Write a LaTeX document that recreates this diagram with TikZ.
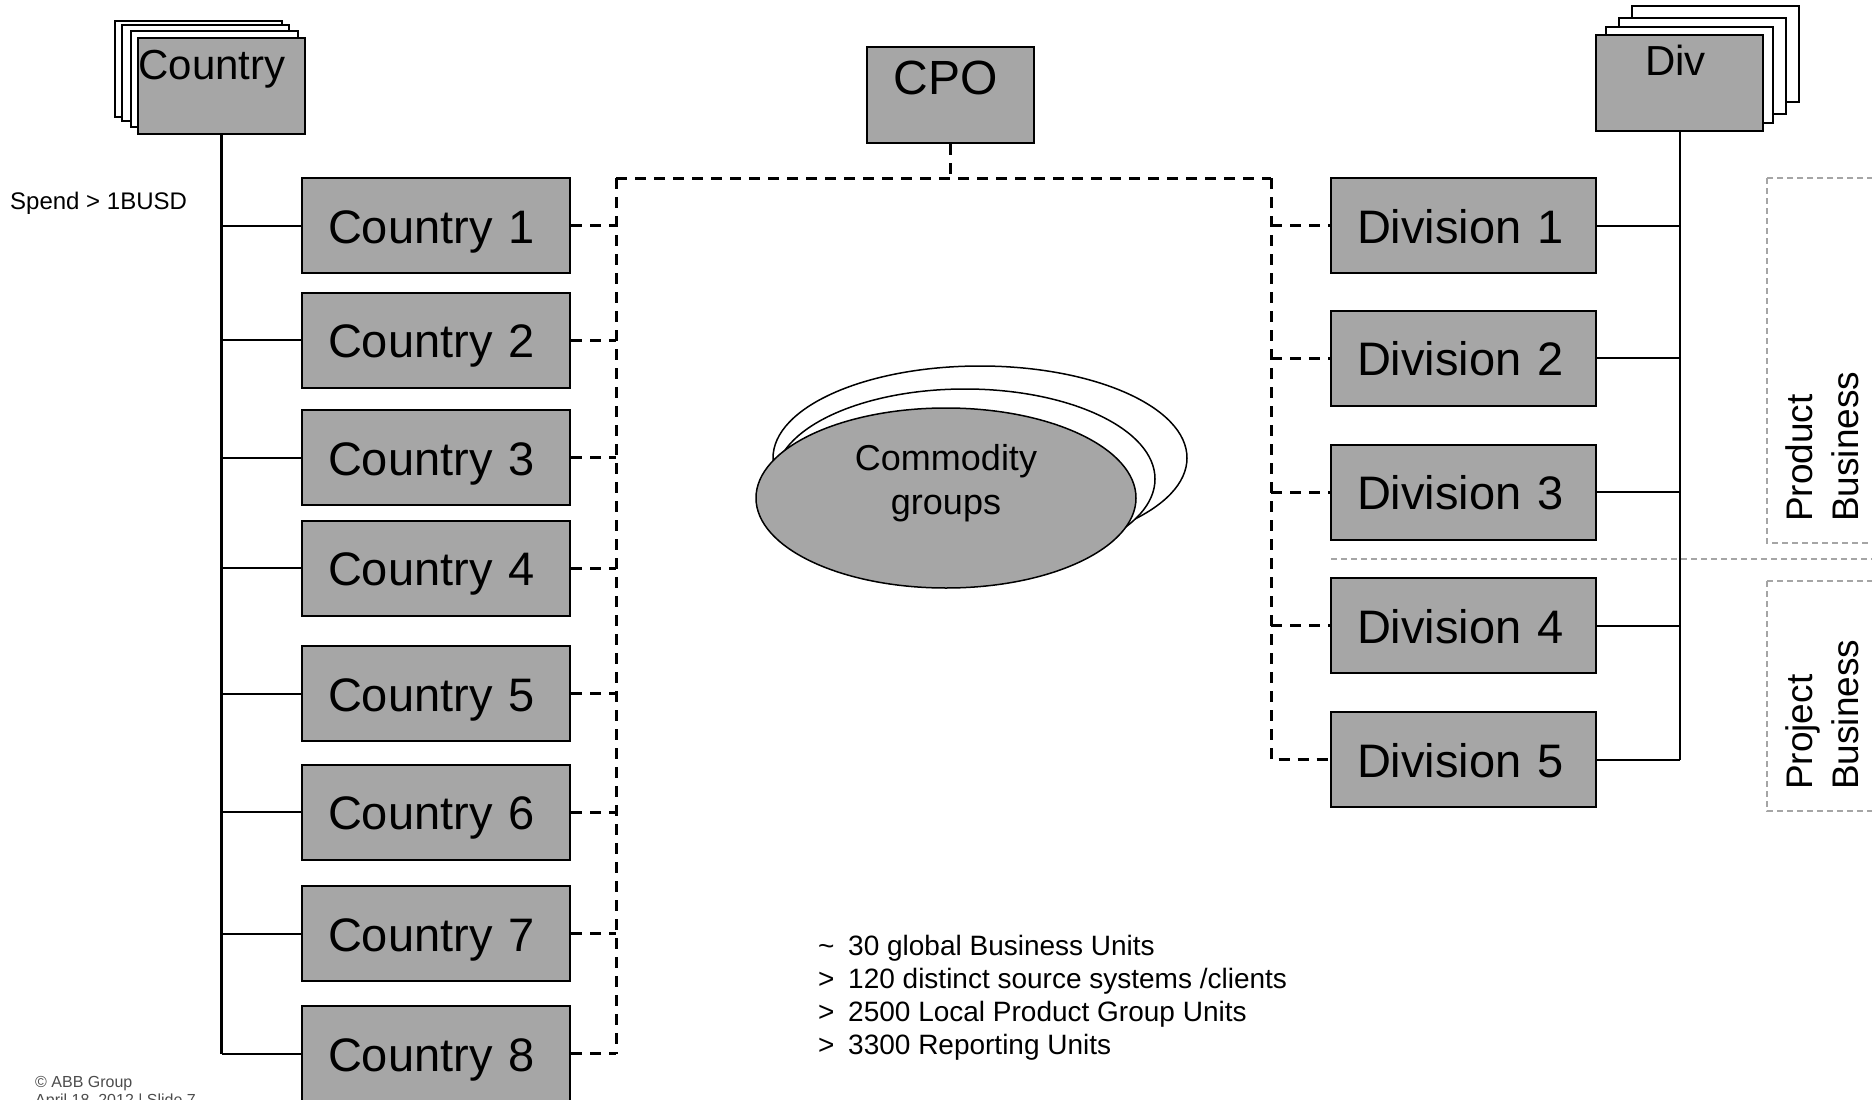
\documentclass[tikz,border=0pt]{standalone}
\usepackage{fontspec}
\setmainfont{Liberation Sans}
\usepackage{tikz}
\usetikzlibrary{shapes.geometric, calc}
\definecolor{boxgray}{RGB}{166,166,166}
\definecolor{linegray}{RGB}{165,165,165}
\tikzstyle{hbox} = [rectangle, draw, line width=2pt, minimum width=167pt, minimum height=96pt, inner sep=0pt]
\tikzstyle{cbox} = [rectangle, draw, fill=boxgray, line width=2pt, minimum width=268pt, minimum height=95pt, inner xsep=26pt, text width=216pt, align=left, text height=35pt, text depth=0pt, font=\fontsize{47}{56}\selectfont]
\tikzstyle{dbox} = [cbox, minimum width=265pt, text width=213pt]
\tikzstyle{cgell} = [ellipse, draw, line width=1.5pt, minimum width=380pt, minimum height=180pt]
\tikzstyle{tree} = [line width=2pt]
\tikzstyle{dline} = [line width=3pt, dash pattern=on 11pt off 8pt]
\tikzstyle{gline} = [linegray, line width=1.5pt, dash pattern=on 6pt off 4pt]
\tikzstyle{txt} = [inner sep=0pt]

\begin{document}
\begin{tikzpicture}[x=1pt, y=-1pt]
\useasboundingbox (0,0) rectangle (1872,1100);
% country stack
\draw (198.5,69) node (cb3) [hbox, fill=white] {};
\draw (205.5,73) node (cb2) [hbox, fill=white] {};
\draw (214.5,79) node (cb1) [hbox, fill=white] {};
\draw (221.5,86) node (ctry) [hbox, fill=boxgray] {};
\draw (212,79) node (ctrytxt) [txt, anchor=base, font=\fontsize{42}{50}\selectfont] {Country};
% div stack
\draw (1715.5,53.5) node (db3) [hbox, fill=white] {};
\draw (1702.5,65.5) node (db2) [hbox, fill=white] {};
\draw (1689.5,75) node (db1) [hbox, fill=white] {};
\draw (1679.5,82.5) node (div) [hbox, fill=boxgray] {};
\draw (1675.5,75) node (divtxt) [txt, anchor=base, font=\fontsize{42}{50}\selectfont] {Div};
% cpo
\draw (950.5,95) node (cpo) [hbox, fill=boxgray] {};
\draw (945.5,94) node (cpotxt) [txt, anchor=base, font=\fontsize{48}{56}\selectfont] {CPO};

\draw (436,225.5) node (c1) [cbox] {Country 1};
\draw (436,340) node (c2) [cbox] {Country 2};
\draw (436,457.5) node (c3) [cbox] {Country 3};
\draw (436,568) node (c4) [cbox] {Country 4};
\draw (436,693.5) node (c5) [cbox] {Country 5};
\draw (436,812) node (c6) [cbox] {Country 6};
\draw (436,933.5) node (c7) [cbox] {Country 7};
\draw (436,1053.5) node (c8) [cbox] {Country 8};

\draw (1463.5,225.5) node (d1) [dbox] {Division 1};
\draw (1463.5,358) node (d2) [dbox] {Division 2};
\draw (1463.5,492) node (d3) [dbox] {Division 3};
\draw (1463.5,625.5) node (d4) [dbox] {Division 4};
\draw (1463.5,759.5) node (d5) [dbox] {Division 5};

% left tree
\draw[line width=2.5pt] (ctry.south) -- (ctry.south |- c8.west);
\draw[tree] (c1.west) -- (c1.west -| ctry.south);
\draw[tree] (c2.west) -- (c2.west -| ctry.south);
\draw[tree] (c3.west) -- (c3.west -| ctry.south);
\draw[tree] (c4.west) -- (c4.west -| ctry.south);
\draw[tree] (c5.west) -- (c5.west -| ctry.south);
\draw[tree] (c6.west) -- (c6.west -| ctry.south);
\draw[tree] (c7.west) -- (c7.west -| ctry.south);
\draw[tree] (c8.west) -- (c8.west -| ctry.south);
% right tree
\draw[tree] (div.south) -- (div.south |- d5.east);
\draw[tree] (d1.east) -- (d1.east -| div.south);
\draw[tree] (d2.east) -- (d2.east -| div.south);
\draw[tree] (d3.east) -- (d3.east -| div.south);
\draw[tree] (d4.east) -- (d4.east -| div.south);
\draw[tree] (d5.east) -- (d5.east -| div.south);

% cpo dashed lines
\coordinate (lbus) at (616,178);
\coordinate (rbus) at (1271,178);
\draw[dline] (cpo.south) -- (cpo.south |- lbus);
\draw[dline] (lbus) -- (rbus);
\draw[dline] (lbus) -- (lbus |- c8.east);
\draw[dline] (rbus) |- (d5.west);
\draw[dline] (c1.east) -- (c1.east -| lbus);
\draw[dline] (c2.east) -- (c2.east -| lbus);
\draw[dline] (c3.east) -- (c3.east -| lbus);
\draw[dline] (c4.east) -- (c4.east -| lbus);
\draw[dline] (c5.east) -- (c5.east -| lbus);
\draw[dline] (c6.east) -- (c6.east -| lbus);
\draw[dline] (c7.east) -- (c7.east -| lbus);
\draw[dline] (c8.east) -- (c8.east -| lbus);
\draw[dline] (d1.west -| rbus) -- (d1.west);
\draw[dline] (d2.west -| rbus) -- (d2.west);
\draw[dline] (d3.west -| rbus) -- (d3.west);
\draw[dline] (d4.west -| rbus) -- (d4.west);

% commodity groups
\draw (980,458) node (cg3) [cgell, fill=white, minimum width=414pt, minimum height=184pt] {};
\draw (965,479) node (cg2) [cgell, fill=white] {};
\draw (946,498) node (cg) [cgell, fill=boxgray] {};
\draw (946,483) node (cgtxt) [txt, align=center, font=\fontsize{36}{44}\selectfont] {Commodity\\groups};

% business areas
\draw[gline] (1767,178) rectangle (1890,543);
\draw[gline] (1767,581) rectangle (1890,811);
\draw[gline] (1331,559) -- (1872,559);
\draw (1785,522) node (prod) [txt, rotate=90, anchor=north west, align=left, font=\fontsize{37}{46}\selectfont] {Product\\Business};
\draw (1785,790) node (proj) [txt, rotate=90, anchor=north west, align=left, font=\fontsize{37}{46}\selectfont] {Project\\Business};

\draw (10,209) node (spend) [txt, anchor=base west, font=\fontsize{24}{29}\selectfont] {Spend > 1BUSD};
\draw (818,935) node (facts) [txt, anchor=north west, align=left, font=\fontsize{28}{33}\selectfont] {\makebox[30pt][l]{\textasciitilde}30 global Business Units\\\makebox[30pt][l]{>}120 distinct source systems /clients\\\makebox[30pt][l]{>}2500 Local Product Group Units\\\makebox[30pt][l]{>}3300 Reporting Units};
\draw (35,1076) node (foot) [txt, anchor=north west, align=left, text=black!70, font=\fontsize{16}{18}\selectfont] {\textcopyright\ ABB Group\\April 18, 2012 | Slide 7};
\end{tikzpicture}
\end{document}
